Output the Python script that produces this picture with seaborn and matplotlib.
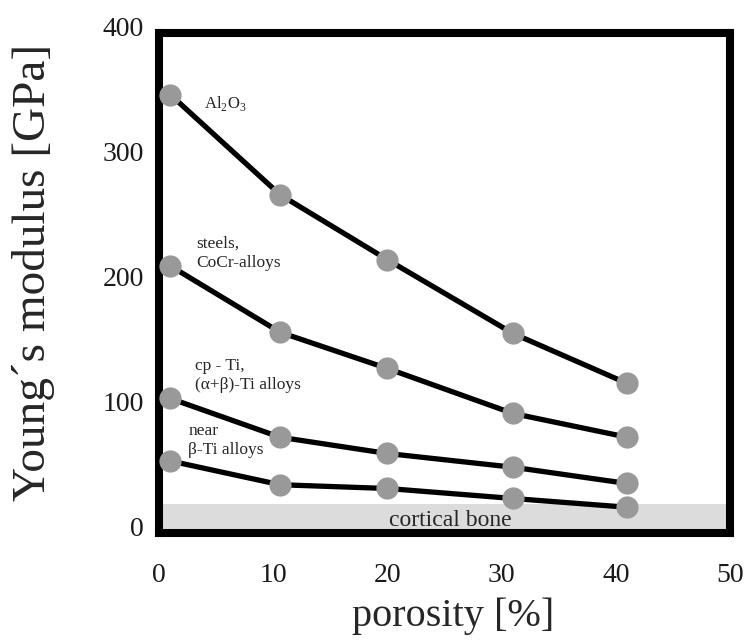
import matplotlib
matplotlib.use("Agg")
import matplotlib.pyplot as plt
import matplotlib.transforms as mtransforms
import seaborn as sns
import pandas as pd

# values
porosity = [1, 10.6, 20, 31, 41]
al2o3 = [351, 271, 219, 160, 120]
steels = [214, 161, 132, 96, 77]
cp_ti = [108, 77, 64, 53, 40]
near_beta = [58, 39, 36, 28, 21]
bone_top = 23.6

xticks = [0, 10, 20, 30, 40, 50]
yticks = [0, 100, 200, 300, 400]

sns.set_theme(style="white")
plt.rcParams['font.family'] = ['Liberation Serif', 'DejaVu Serif']
plt.rcParams['mathtext.fontset'] = 'custom'
plt.rcParams['mathtext.rm'] = 'Liberation Serif'

fig = plt.figure(figsize=(7.47, 6.44), dpi=100)
ax = fig.add_axes([0.2129, 0.1716, 0.7644, 0.7764])

# cortical bone band
ax.axhspan(0, bone_top, color='#dcdcdc', zorder=0, lw=0)
ax.text(25.5, 10.5, 'cortical bone', ha='center', va='center', fontsize=17)

for serie in [al2o3, steels, cp_ti, near_beta]:
    df = pd.DataFrame({'porosity': porosity, 'E': serie})
    sns.lineplot(data=df, x='porosity', y='E', ax=ax, color='black', lw=3.8,
                 marker='o', markersize=16, markerfacecolor='#999999',
                 markeredgewidth=0, zorder=3)

# labels on the curves
ax.text(3.9, 344, r'Al$_\mathrm{2}$O$_\mathrm{3}$', fontsize=12, va='center')
ax.text(3.25, 224, 'steels,\nCoCr-alloys', fontsize=12.5, va='center', linespacing=1.25)
ax.text(3.15, 126, 'cp - Ti,\n(α+β)-Ti alloys', fontsize=12.5, va='center', linespacing=1.25)
ax.text(2.55, 74, 'near\nβ-Ti alloys', fontsize=12.5, va='center', linespacing=1.25)

ax.set_xlim(0, 50)
ax.set_ylim(0, 400)
ax.set_xticks(xticks)
ax.set_yticks(yticks)
ax.tick_params(axis='both', length=0, labelsize=20, colors='#1a1a1a')
ax.tick_params(axis='x', pad=21)
ax.tick_params(axis='y', pad=11)

# y tick labels sit a bit higher than the grid in the original
shift = mtransforms.ScaledTranslation(0, 5 / 72, fig.dpi_scale_trans)
for t in ax.yaxis.get_major_ticks():
    t.label1.set_transform(t.label1.get_transform() + shift)

for sp in ax.spines.values():
    sp.set_visible(True)
    sp.set_color('black')
    sp.set_linewidth(5.8)

ax.set_xlabel('porosity [%]', fontsize=29)
ax.set_ylabel('Young´s modulus [GPa]', fontsize=34)
ax.xaxis.set_label_coords(0.515, -0.129)
ax.yaxis.set_label_coords(-0.182, 0.523)

fig.savefig('out.png', dpi=100)
